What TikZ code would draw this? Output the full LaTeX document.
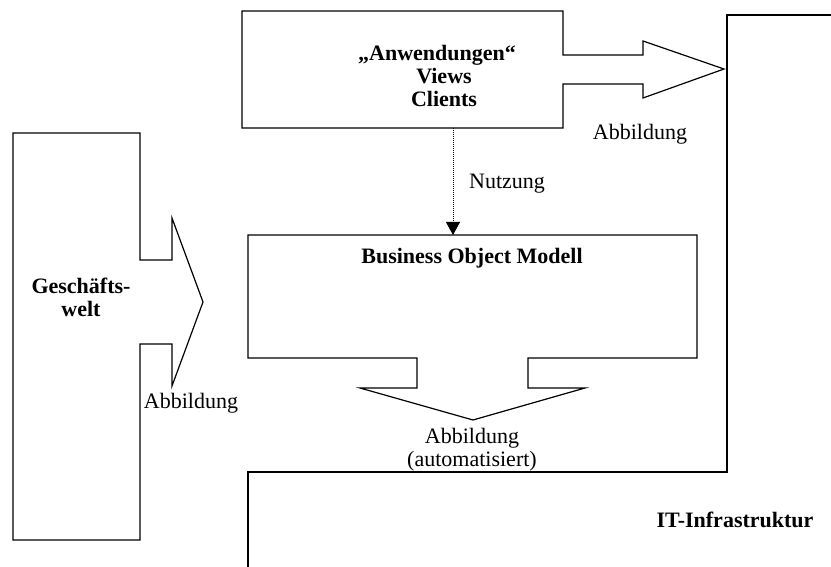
\documentclass[tikz,border=0pt]{standalone}
\usepackage{fontspec}
\setmainfont{Liberation Serif}
\usetikzlibrary{arrows.meta}
\begin{document}
\begin{tikzpicture}[x=1pt,y=-1pt,
  outline/.style={draw=black,line width=1.2pt,line join=miter},
  txt/.style={inner sep=0pt,font=\fontsize{22}{23}\selectfont},
  boldtxt/.style={inner sep=0pt,font=\fontsize{22}{23}\selectfont\bfseries},
  uses/.style={draw=black,line width=0.9pt,dash pattern=on 0.9pt off 1.1pt,
    -{Triangle[length=13pt,width=14pt]}}]

% canvas
\fill[white] (0,0) rectangle (831,567);
\useasboundingbox (0,0) rectangle (831,567);

% IT infrastructure region (open outline)
\draw[outline] (832,15) -- (727,15) -- (727,472) -- (248,472) -- (248,568);

% applications box with its mapping arrow
\draw[outline] (242,11) -- (563,11) -- (563,55) -- (643,55) -- (643,41)
  -- (724,69) -- (643,98) -- (643,84) -- (563,84) -- (563,128)
  -- (242,128) -- cycle;

% business world with its mapping arrow
\draw[outline] (13,133) -- (140,133) -- (140,260) -- (172,260) -- (172,218)
  -- (203,302) -- (172,386) -- (172,344) -- (140,344) -- (140,540)
  -- (13,540) -- cycle;

% business object model with its downward mapping arrow
\draw[outline] (248,235) -- (697,235) -- (697,358) -- (528,358) -- (528,388)
  -- (585,388) -- (473,420) -- (360,388) -- (417,388) -- (417,358)
  -- (248,358) -- cycle;

% texts
\node[boldtxt,align=center] (apps) at (444,75.5)
  {„Anwendungen“\hspace*{14pt}\\Views\\Clients};
\node[boldtxt,align=center] (world) at (81,297) {Geschäfts-\\welt};
\node[boldtxt,anchor=base] (bom) at (472,264) {Business Object Modell};
\node[boldtxt,anchor=base] (infra) at (735,527) {IT-Infrastruktur};
\node[txt,anchor=base] (mapApps) at (640,140) {Abbildung};
\node[txt,anchor=base] (mapWorld) at (191,408) {Abbildung};
\node[txt,align=center] (mapBom) at (472,449.5) {Abbildung\\(automatisiert)};
\node[txt,anchor=base] (use) at (507,189) {Nutzung};

% usage relation between applications and the object model
\coordinate (useFrom) at (453,128);
\coordinate (useTo) at (453,235);
\draw[uses] (useFrom) -- (useTo);

\end{tikzpicture}
\end{document}
